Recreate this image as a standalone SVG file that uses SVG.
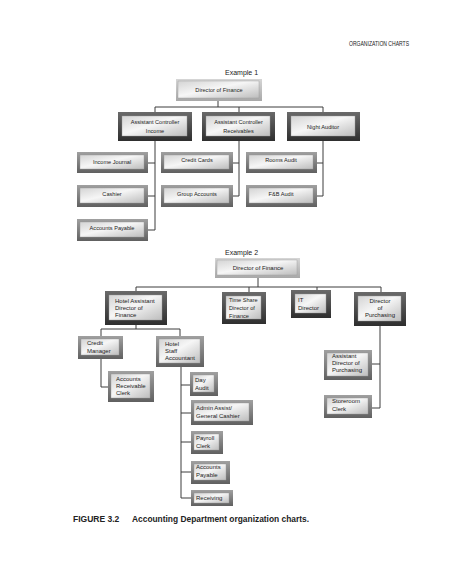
<svg xmlns="http://www.w3.org/2000/svg" width="474" height="576" viewBox="0 0 474 576">
<defs>
<linearGradient id="gin" x1="0" y1="0" x2="1" y2="1">
<stop offset="0" stop-color="#d4d4d4"/>
<stop offset="0.45" stop-color="#f6f6f6"/>
<stop offset="1" stop-color="#bdbdbd"/>
</linearGradient>
<linearGradient id="gdark" x1="0" y1="0" x2="0" y2="1">
<stop offset="0" stop-color="#6a6a6a"/>
<stop offset="1" stop-color="#2e2e2e"/>
</linearGradient>
<linearGradient id="gmed" x1="0" y1="0" x2="0" y2="1">
<stop offset="0" stop-color="#a0a0a0"/>
<stop offset="1" stop-color="#606060"/>
</linearGradient>
<linearGradient id="glight" x1="0" y1="0" x2="0" y2="1">
<stop offset="0" stop-color="#d6d6d6"/>
<stop offset="1" stop-color="#a8a8a8"/>
</linearGradient>
</defs>
<style>
.fd{fill:url(#gdark)}
.fm{fill:url(#gmed)}
.fl{fill:url(#glight)}
.in{fill:url(#gin);stroke:#9a9a9a;stroke-width:0.4}
text{font-family:"Liberation Sans",Arial,sans-serif;fill:#222}
.t{font-size:5.6px}
.t2{font-size:6px}
.c{text-anchor:middle}
.ex{font-size:7px}
.cn path{fill:none;stroke:#3c3c3c;stroke-width:1}
</style>
<rect width="474" height="576" fill="#fff"/>
<text x="349" y="46" font-size="6.5" textLength="60" lengthAdjust="spacingAndGlyphs">ORGANIZATION CHARTS</text>
<text class="ex" x="225" y="75">Example 1</text>
<text class="ex" x="225" y="255">Example 2</text>

<g class="cn" id="connectors">
<path d="M218,101 V107 M155,107 H323 M155,107 V112 M239,107 V112 M323,107 V112"/>
<path d="M155,141 V230 M148,163 H155 M148,196 H155 M148,230 H155"/>
<path d="M239,141 V196 M233,163 H239 M233,196 H239"/>
<path d="M323,141 V196 M317,163 H323 M317,196 H323"/>
<path d="M258,278 V287 M136,287 H381 M136,287 V291 M249,287 V292 M317,287 V290 M381,287 V292"/>
<path d="M136,325 V329 M101,329 H180 M101,329 V336 M180,329 V336"/>
<path d="M101,359 V387 H108"/>
<path d="M181,367 V498 M181,385 H190 M181,413 H191 M181,442 H191 M181,472 H191 M181,498 H191"/>
<path d="M380,326 V408 M372,364 H380 M372,408 H380"/>
</g>

<g id="dir1"><rect class="fl" x="176" y="79" width="86" height="22"/><rect class="in" x="178" y="81" width="81" height="17"/><text class="t c" x="219" y="92">Director of Finance</text></g>
<g id="ac-income"><rect class="fd" x="118" y="112" width="74" height="29"/><rect class="in" x="122" y="116" width="65" height="20"/><text class="t c" x="155" y="124">Assistant Controller</text><text class="t c" x="155" y="133">Income</text></g>
<g id="ac-recv"><rect class="fd" x="202" y="112" width="73" height="29"/><rect class="in" x="206" y="116" width="64" height="20"/><text class="t c" x="238.5" y="124">Assistant Controller</text><text class="t c" x="238.5" y="133">Receivables</text></g>
<g id="night"><rect class="fd" x="287" y="112" width="73" height="29"/><rect class="in" x="291" y="116" width="64" height="20"/><text class="t c" x="323" y="129">Night Auditor</text></g>

<g id="income-journal"><rect class="fm" x="77" y="152" width="71" height="21"/><rect class="in" x="80" y="155" width="64" height="14"/><text class="t c" x="112" y="164">Income Journal</text></g>
<g id="cashier"><rect class="fm" x="77" y="185" width="71" height="22"/><rect class="in" x="80" y="188" width="64" height="15"/><text class="t c" x="112" y="196">Cashier</text></g>
<g id="accounts-payable-1"><rect class="fm" x="77" y="219" width="71" height="22"/><rect class="in" x="80" y="222" width="64" height="15"/><text class="t c" x="112" y="230">Accounts Payable</text></g>
<g id="credit-cards"><rect class="fm" x="161" y="152" width="72" height="21"/><rect class="in" x="164" y="155" width="65" height="14"/><text class="t c" x="197" y="162">Credit Cards</text></g>
<g id="group-accounts"><rect class="fm" x="161" y="185" width="72" height="22"/><rect class="in" x="164" y="188" width="65" height="15"/><text class="t c" x="197" y="196">Group Accounts</text></g>
<g id="rooms-audit"><rect class="fm" x="246" y="152" width="71" height="21"/><rect class="in" x="249" y="155" width="64" height="14"/><text class="t c" x="281" y="162">Rooms Audit</text></g>
<g id="fb-audit"><rect class="fm" x="246" y="185" width="71" height="22"/><rect class="in" x="249" y="188" width="64" height="15"/><text class="t c" x="281" y="196">F&amp;B Audit</text></g>

<g id="dir2"><rect class="fl" x="215" y="258" width="85" height="20"/><rect class="in" x="217" y="260" width="80" height="15"/><text class="t2 c" x="258" y="270">Director of Finance</text></g>
<g id="hotel-asst"><rect class="fd" x="105" y="291" width="62" height="34"/><rect class="in" x="109" y="295" width="53" height="25"/><text class="t2" x="115" y="303">Hotel Assistant</text><text class="t2" x="115" y="310">Director of</text><text class="t2" x="115" y="317">Finance</text></g>
<g id="time-share"><rect class="fd" x="222" y="292" width="44" height="32"/><rect class="in" x="226" y="296" width="35" height="23"/><text x="229" y="302" font-size="5.6">Time Share</text><text x="229" y="310" font-size="5.6">Director of</text><text x="229" y="318" font-size="5.6">Finance</text></g>
<g id="it-director"><rect class="fd" x="291" y="290" width="40" height="28"/><rect class="in" x="295" y="294" width="31" height="19"/><text class="t2" x="298" y="302">IT</text><text class="t2" x="298" y="310">Director</text></g>
<g id="dir-purch"><rect class="fd" x="354" y="292" width="52" height="34"/><rect class="in" x="358" y="296" width="43" height="25"/><text class="t2 c" x="380" y="303">Director</text><text class="t2 c" x="380" y="310">of</text><text class="t2 c" x="380" y="317">Purchasing</text></g>

<g id="credit-manager"><rect class="fm" x="78" y="336" width="45" height="23"/><rect class="in" x="81" y="339" width="38" height="16"/><text class="t2" x="87" y="345">Credit</text><text class="t2" x="87" y="353">Manager</text></g>
<g id="hotel-staff"><rect class="fm" x="156" y="336" width="48" height="31"/><rect class="in" x="159" y="339" width="41" height="24"/><text class="t2" x="165" y="346">Hotel</text><text class="t2" x="165" y="353">Staff</text><text class="t2" x="165" y="360">Accountant</text></g>
<g id="ar-clerk"><rect class="fm" x="108" y="371" width="46" height="31"/><rect class="in" x="111" y="374" width="39" height="24"/><text class="t2" x="116" y="381">Accounts</text><text class="t2" x="116" y="388">Receivable</text><text class="t2" x="116" y="395">Clerk</text></g>
<g id="day-audit"><rect class="fm" x="190" y="372" width="28" height="24"/><rect class="in" x="193" y="375" width="21" height="17"/><text class="t2" x="195" y="382">Day</text><text class="t2" x="195" y="390">Audit</text></g>
<g id="admin-assist"><rect class="fm" x="191" y="400" width="62" height="25"/><rect class="in" x="194" y="403" width="55" height="18"/><text class="t2" x="196" y="410">Admin Assist/</text><text class="t2" x="196" y="418">General Cashier</text></g>
<g id="payroll"><rect class="fm" x="191" y="431" width="32" height="23"/><rect class="in" x="194" y="434" width="25" height="16"/><text class="t2" x="196" y="440">Payroll</text><text class="t2" x="196" y="448">Clerk</text></g>
<g id="accounts-payable-2"><rect class="fm" x="191" y="461" width="39" height="23"/><rect class="in" x="194" y="464" width="32" height="16"/><text class="t2" x="196" y="469">Accounts</text><text class="t2" x="196" y="477">Payable</text></g>
<g id="receiving"><rect class="fm" x="191" y="490" width="42" height="16"/><rect class="in" x="194" y="493" width="35" height="10"/><text class="t2" x="196" y="500">Receiving</text></g>
<g id="asst-dir-purch"><rect class="fm" x="324" y="350" width="48" height="30"/><rect class="in" x="327" y="353" width="41" height="23"/><text class="t2" x="332" y="358">Assistant</text><text class="t2" x="332" y="365">Director of</text><text class="t2" x="332" y="372">Purchasing</text></g>
<g id="storeroom"><rect class="fm" x="324" y="395" width="48" height="23"/><rect class="in" x="327" y="398" width="41" height="16"/><text class="t2" x="332" y="403">Storeroom</text><text class="t2" x="332" y="411">Clerk</text></g>

<text x="73" y="522" font-size="8.5" font-weight="bold">FIGURE 3.2</text>
<text x="132" y="522" font-size="8.5" font-weight="bold" textLength="177" lengthAdjust="spacingAndGlyphs">Accounting Department organization charts.</text>
</svg>
